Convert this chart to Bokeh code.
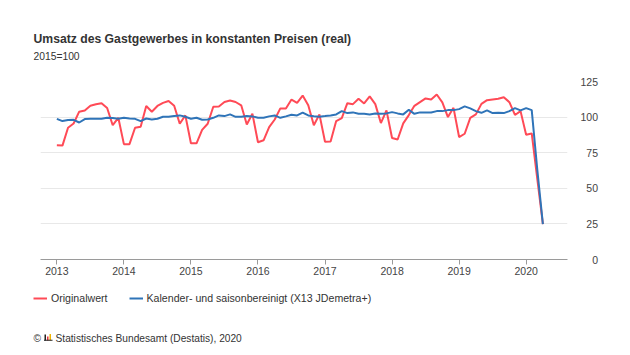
import pandas as pd
from bokeh.plotting import figure
from bokeh.layouts import column
from bokeh.models import (Range1d, FixedTicker, Label, Legend, LegendItem,
                          ColumnDataSource, BoxAnnotation)
from bokeh.embed import file_html
from bokeh.resources import INLINE

# ---- data (2015 = 100), monthly Jan 2013 .. Apr 2020 ----
months = pd.date_range("2013-01-01", "2020-04-01", freq="MS")

original = [
    80.2, 80.0, 92.5, 95.5, 103.8, 104.7, 108.0, 109.0, 109.7, 106.4, 94.3, 99.5,   # 2013
    81.0, 81.0, 92.5, 93.2, 107.8, 103.8, 107.8, 110.0, 111.3, 108.0, 95.3, 101.2,  # 2014
    81.6, 81.6, 91.0, 95.3, 107.3, 107.5, 110.6, 111.6, 110.6, 108.3, 94.8, 102.4,  # 2015
    82.3, 83.7, 92.9, 98.3, 106.1, 106.1, 112.3, 110.0, 115.1, 108.3, 94.3, 101.9,  # 2016
    82.7, 82.9, 97.2, 99.3, 109.8, 109.1, 112.9, 109.6, 114.5, 109.1, 95.8, 104.7,  # 2017
    85.3, 84.3, 95.6, 101.4, 107.9, 110.5, 113.1, 112.4, 115.9, 110.3, 100.0, 106.5, # 2018
    86.0, 88.3, 99.5, 101.9, 109.3, 111.9, 112.4, 112.9, 114.0, 110.5, 101.5, 104.2, # 2019
    87.6, 88.5, 56.5, 24.8,                                                          # 2020
]
adjusted = [
    98.8, 97.2, 97.9, 98.1, 96.2, 98.6, 98.8, 98.8, 98.8, 99.5, 99.3, 98.8,
    99.5, 99.0, 98.8, 97.2, 99.0, 98.3, 98.8, 100.2, 100.2, 100.7, 101.2, 100.2,
    98.8, 99.5, 98.1, 98.3, 99.5, 101.2, 100.7, 101.9, 100.2, 100.2, 100.7, 100.5,
    99.5, 99.5, 100.5, 101.2, 99.5, 100.5, 101.7, 101.2, 103.2, 101.2, 100.6, 100.3,
    100.7, 101.2, 101.9, 104.2, 102.8, 103.3, 102.3, 102.3, 101.9, 102.6, 102.3, 102.6,
    103.5, 102.6, 101.9, 105.1, 102.3, 103.3, 103.3, 103.3, 104.2, 104.2, 104.9, 104.9,
    105.6, 107.5, 106.1, 104.2, 103.0, 104.7, 102.8, 103.0, 102.8, 104.2, 106.3, 104.7,
    106.3, 104.9, 63.0, 24.8,
]
year_ticks = [2013, 2014, 2015, 2016, 2017, 2018, 2019, 2020]
value_ticks = [0, 25, 50, 75, 100, 125]
value_labels = {0: "\u2007\u20070", 25: "\u200725", 50: "\u200750",
                75: "\u200775", 100: "100", 125: "125"}

x = [m.year + (m.month - 1) / 12 for m in months]
src = ColumnDataSource(dict(x=x, orig=original, adj=adjusted))

RED = "#ff4a56"
BLUE = "#2f74b8"
TXT = "#333333"
FONT = "Liberation Sans"
W = 622


def blank(h):
    f = figure(width=W, height=h, output_backend="svg", toolbar_location=None,
               x_range=Range1d(0, W), y_range=Range1d(h, 0),
               x_axis_location=None, y_axis_location=None, min_border=0,
               frame_align=False)
    f.outline_line_color = None
    f.xgrid.visible = False
    f.ygrid.visible = False
    return f


# ---- header ----
head = blank(70)
head.add_layout(Label(x=33, y=38, text="Umsatz des Gastgewerbes in konstanten Preisen (real)",
                      text_font=FONT, text_font_size="12.2px", text_font_style="bold",
                      text_color=TXT, text_baseline="middle"))
head.add_layout(Label(x=33, y=56, text="2015=100", text_font=FONT, text_font_size="10.3px",
                      text_color=TXT, text_baseline="middle"))

# ---- main chart ----
p = figure(width=W, height=215, output_backend="svg", toolbar_location=None,
           x_range=Range1d(2012.756, 2020.617), y_range=Range1d(0, 125),
           y_axis_location="right", frame_align=False)
p.min_border_left = 40
p.min_border_right = W - 567
p.min_border_top = 11
p.min_border_bottom = 26
p.outline_line_color = None

p.xgrid.grid_line_color = None
p.ygrid.grid_line_color = "#e8e8e8"
p.ygrid.grid_line_width = 1
p.ygrid.ticker = FixedTicker(ticks=value_ticks)

xa = p.xaxis[0]
xa.ticker = FixedTicker(ticks=year_ticks)
xa.axis_line_color = "#9a9a9a"
xa.major_tick_line_color = "#9a9a9a"
xa.major_tick_out = 5
xa.major_tick_in = 0
xa.minor_tick_line_color = None
xa.major_label_standoff = 2
xa.major_label_text_font = FONT
xa.major_label_text_font_size = "10.5px"
xa.major_label_text_color = "#444444"

ya = p.yaxis[0]
ya.ticker = FixedTicker(ticks=value_ticks)
ya.major_label_overrides = value_labels
ya.axis_line_color = None
ya.major_tick_line_color = None
ya.major_tick_out = 0
ya.major_tick_in = 0
ya.minor_tick_line_color = None
ya.minor_tick_out = 0
ya.major_label_standoff = 13
ya.major_label_text_font = FONT
ya.major_label_text_font_size = "10.5px"
ya.major_label_text_color = "#444444"

p.line("x", "orig", source=src, line_color=RED, line_width=2)
p.line("x", "adj", source=src, line_color=BLUE, line_width=2)

# ---- footer: legend + source ----
FH = 65
foot = blank(FH)
proxy = ColumnDataSource(dict(x=[float("nan")], y=[float("nan")]))
lr = foot.line("x", "y", source=proxy, line_color=RED, line_width=2)
lb = foot.line("x", "y", source=proxy, line_color=BLUE, line_width=2)
legend = Legend(items=[LegendItem(label="Originalwert", renderers=[lr]),
                       LegendItem(label="Kalender- und saisonbereinigt (X13 JDemetra+)", renderers=[lb])],
                location=(33, FH - 19), orientation="horizontal",
                background_fill_alpha=0, border_line_alpha=0,
                padding=0, margin=0, spacing=21, label_standoff=4,
                glyph_width=14, glyph_height=12, label_height=12,
                label_text_font=FONT, label_text_font_size="10.6px",
                label_text_color=TXT)
foot.add_layout(legend)

foot.add_layout(Label(x=33, y=53, text="©", text_font=FONT, text_font_size="10.2px",
                      text_color=TXT, text_baseline="middle"))
foot.add_layout(Label(x=55, y=53, text="Statistisches Bundesamt (Destatis), 2020",
                      text_font=FONT, text_font_size="10.2px", text_color=TXT,
                      text_baseline="middle"))
for l, r, t, b, col in [(44, 45.5, 49, 55, "#222222"), (46.5, 48, 51, 55, "#e8363f"),
                        (49, 50.5, 48.5, 55, "#f0b400"), (43.5, 52, 54.3, 55.3, "#222222")]:
    foot.add_layout(BoxAnnotation(left=l, right=r, top=t, bottom=b,
                                  fill_color=col, fill_alpha=1, line_color=None))

layout = column(head, p, foot, spacing=0)
open("out.html", "w").write(file_html(layout, INLINE))
